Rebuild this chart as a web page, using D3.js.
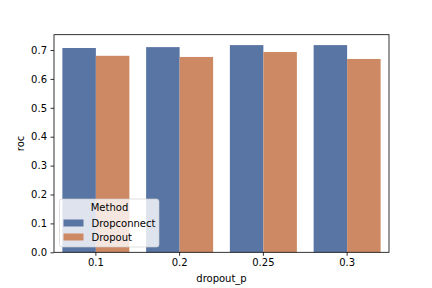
<!DOCTYPE html>
<html>
<head>
<meta charset="utf-8">
<script src="https://cdn.jsdelivr.net/npm/d3@7"></script>
<style>
  body { margin: 0; background: #fff; }
  text { font-family: "DejaVu Sans", sans-serif; }
</style>
</head>
<body>
<svg id="chart" width="432" height="288"></svg>
<script>
// data
const categories = ['0.1', '0.2', '0.25', '0.3'];
const methods = ['Dropconnect', 'Dropout'];
const dropconnect = [0.707, 0.710, 0.717, 0.717];
const dropout = [0.680, 0.676, 0.693, 0.669];
const yTicks = [0, 0.1, 0.2, 0.3, 0.4, 0.5, 0.6, 0.7];
const colors = ['#5975a4', '#cc8963'];

const series = [dropconnect, dropout];

const plotLeft = 54, plotRight = 389, plotTop = 34.7, plotBottom = 252.3;

const svg = d3.select('#chart');

const xScale = d3.scaleBand()
  .domain(categories)
  .range([plotLeft, plotRight])
  .paddingInner(0.2)
  .paddingOuter(0.1);

const inner = d3.scaleBand()
  .domain(methods)
  .range([0, xScale.bandwidth()]);

const yScale = d3.scaleLinear()
  .domain([0, 0.753])
  .range([plotBottom, plotTop]);

// bars
methods.forEach((m, mi) => {
  svg.append('g')
    .selectAll('rect')
    .data(series[mi])
    .join('rect')
    .attr('x', (d, i) => xScale(categories[i]) + inner(m))
    .attr('y', d => yScale(d))
    .attr('width', inner.bandwidth())
    .attr('height', d => yScale(0) - yScale(d))
    .attr('fill', colors[mi]);
});

// axes
const xAxis = d3.axisBottom(xScale).tickSizeOuter(0).tickSize(3.5).tickPadding(3.5);
const yAxis = d3.axisLeft(yScale).tickValues(yTicks).tickFormat(d3.format('.1f'))
  .tickSizeOuter(0).tickSize(3.5).tickPadding(3.5);

const gx = svg.append('g')
  .attr('transform', `translate(0,${plotBottom})`)
  .call(xAxis);
const gy = svg.append('g')
  .attr('transform', `translate(${plotLeft},0)`)
  .call(yAxis);

[gx, gy].forEach(g => {
  g.select('.domain').remove();
  g.selectAll('text').attr('font-size', 10).attr('fill', '#000')
    .style('font-family', '"DejaVu Sans", sans-serif');
  g.selectAll('line').attr('stroke', '#000').attr('stroke-width', 0.8);
});

// frame
svg.append('rect')
  .attr('x', plotLeft).attr('y', plotTop)
  .attr('width', plotRight - plotLeft).attr('height', plotBottom - plotTop)
  .attr('fill', 'none')
  .attr('stroke', '#000')
  .attr('stroke-width', 0.8);

// axis labels
svg.append('text')
  .attr('x', (plotLeft + plotRight) / 2)
  .attr('y', 282)
  .attr('text-anchor', 'middle')
  .attr('font-size', 10)
  .text('dropout_p');

svg.append('text')
  .attr('transform', `translate(24,${(plotTop + plotBottom) / 2}) rotate(-90)`)
  .attr('text-anchor', 'middle')
  .attr('font-size', 10)
  .text('roc');

// legend
const lg = svg.append('g').attr('transform', 'translate(59.5,199)');
lg.append('rect')
  .attr('width', 99.5).attr('height', 48)
  .attr('rx', 2.5)
  .attr('fill', '#fff').attr('fill-opacity', 0.8)
  .attr('stroke', '#ccc').attr('stroke-opacity', 0.8)
  .attr('stroke-width', 0.8);
lg.append('text')
  .attr('x', 50).attr('y', 11.5)
  .attr('text-anchor', 'middle')
  .attr('font-size', 10)
  .text('Method');
methods.forEach((m, i) => {
  const y0 = 20.5 + i * 14;
  lg.append('rect')
    .attr('x', 4).attr('y', y0)
    .attr('width', 20).attr('height', 7)
    .attr('fill', colors[i]);
  lg.append('text')
    .attr('x', 32).attr('y', y0 + 7)
    .attr('font-size', 10)
    .text(m);
});
</script>
</body>
</html>
